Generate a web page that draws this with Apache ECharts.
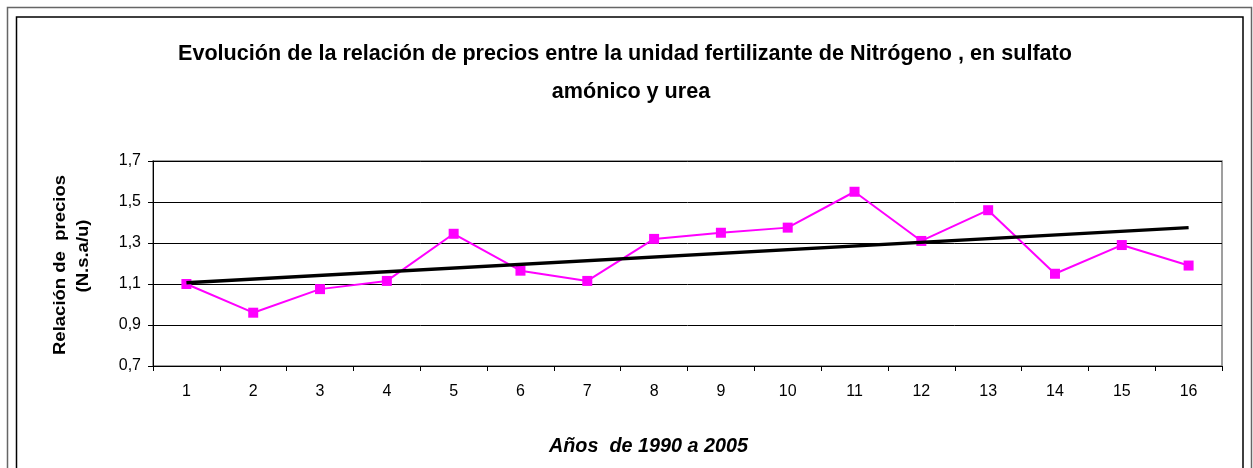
<!DOCTYPE html>
<html>
<head>
<meta charset="utf-8">
<script src="https://cdn.jsdelivr.net/npm/echarts@6/dist/echarts.min.js"></script>
<style>html,body{margin:0;padding:0;background:#fff}#c{width:1253px;height:468px}</style>
</head>
<body>
<div id="c"></div>
<script>
// ---- data ----
const categories = ['1','2','3','4','5','6','7','8','9','10','11','12','13','14','15','16'];
const ratioValues = [1.10, 0.96, 1.075, 1.115, 1.345, 1.165, 1.115, 1.32, 1.35, 1.375, 1.55, 1.31, 1.46, 1.15, 1.29, 1.19];
const trendCategories = ['1', '16'];
const trendValues = [1.106, 1.375];
const titleLines = ['Evolución de la relación de precios entre la unidad fertilizante de Nitrógeno , en sulfato', 'amónico y urea'];
const yNameLines = ['Relación de  precios', '(N.s.a/u)'];
const xName = 'Años  de 1990 a 2005';
const yMin = 0.7, yMax = 1.7, yStep = 0.2;

// ---- helpers ----
const ctx = document.createElement('canvas').getContext('2d');
function textWidth(t, font) { ctx.font = font; return ctx.measureText(t).width; }

const titleFont = 'bold 22px "Liberation Sans", Arial, sans-serif';
const titleScale = 894 / textWidth(titleLines[0], titleFont);
const xNameFont = 'italic bold 20px "Liberation Sans", Arial, sans-serif';
const xNameScale = 199 / textWidth(xName, xNameFont);
const yNameFont = 'bold 16px "Liberation Sans", Arial, sans-serif';
const yNameScale = 180 / textWidth(yNameLines[0], yNameFont);

const chart = echarts.init(document.getElementById('c'), null, {renderer: 'canvas'});
const option = {
  animation: false,
  backgroundColor: '#fff',
  textStyle: {fontFamily: '"Liberation Sans", Arial, sans-serif'},
  grid: {left: 153, right: 31, top: 161, bottom: 102, show: true, borderColor: '#808080', borderWidth: 1.5, backgroundColor: 'transparent'},
  xAxis: {
    type: 'category',
    data: categories,
    boundaryGap: true,
    axisLine: {lineStyle: {color: '#000', width: 1}},
    axisTick: {show: true, alignWithLabel: false, length: 5, lineStyle: {color: '#000'}},
    axisLabel: {color: '#000', fontSize: 16, margin: 18}
  },
  yAxis: {
    type: 'value',
    min: yMin, max: yMax, interval: yStep,
    axisLine: {show: true, lineStyle: {color: '#000', width: 1}},
    axisTick: {show: true, length: 5, lineStyle: {color: '#000'}},
    axisLabel: {color: '#000', fontSize: 16, margin: 12, formatter: v => v.toFixed(1).replace('.', ',')},
    splitLine: {show: true, lineStyle: {color: '#000', width: 1}}
  },
  series: [
    {
      type: 'line', data: ratioValues, symbol: 'rect', symbolSize: 10,
      lineStyle: {color: '#FF00FF', width: 2},
      itemStyle: {color: '#FF00FF'}, z: 3
    },
    {
      type: 'line', data: trendCategories.map((c, i) => [c, trendValues[i]]),
      symbol: 'none', lineStyle: {color: '#000', width: 3.5}, z: 4
    }
  ],
  graphic: [
    {type: 'rect', shape: {x: 7.5, y: 7.5, width: 1244, height: 600}, style: {fill: 'none', stroke: '#666', lineWidth: 1.5}, silent: true},
    {type: 'rect', shape: {x: 16.5, y: 17, width: 1226.5, height: 600}, style: {fill: 'none', stroke: '#000', lineWidth: 1.5}, silent: true},
    {type: 'text', x: 625, y: 54, scaleX: titleScale, style: {text: titleLines[0], font: titleFont, fill: '#000', textAlign: 'center', textVerticalAlign: 'middle'}},
    {type: 'text', x: 631, y: 92, scaleX: titleScale, style: {text: titleLines[1], font: titleFont, fill: '#000', textAlign: 'center', textVerticalAlign: 'middle'}},
    {type: 'text', x: 648.5, y: 446, scaleX: xNameScale, style: {text: xName, font: xNameFont, fill: '#000', textAlign: 'center', textVerticalAlign: 'middle'}},
    {type: 'text', x: 61, y: 265, rotation: Math.PI / 2, scaleX: yNameScale, style: {text: yNameLines[0], font: yNameFont, fill: '#000', textAlign: 'center', textVerticalAlign: 'middle'}},
    {type: 'text', x: 84, y: 256, rotation: Math.PI / 2, scaleX: yNameScale, style: {text: yNameLines[1], font: yNameFont, fill: '#000', textAlign: 'center', textVerticalAlign: 'middle'}}
  ]
};
chart.setOption(option);
</script>
</body>
</html>
